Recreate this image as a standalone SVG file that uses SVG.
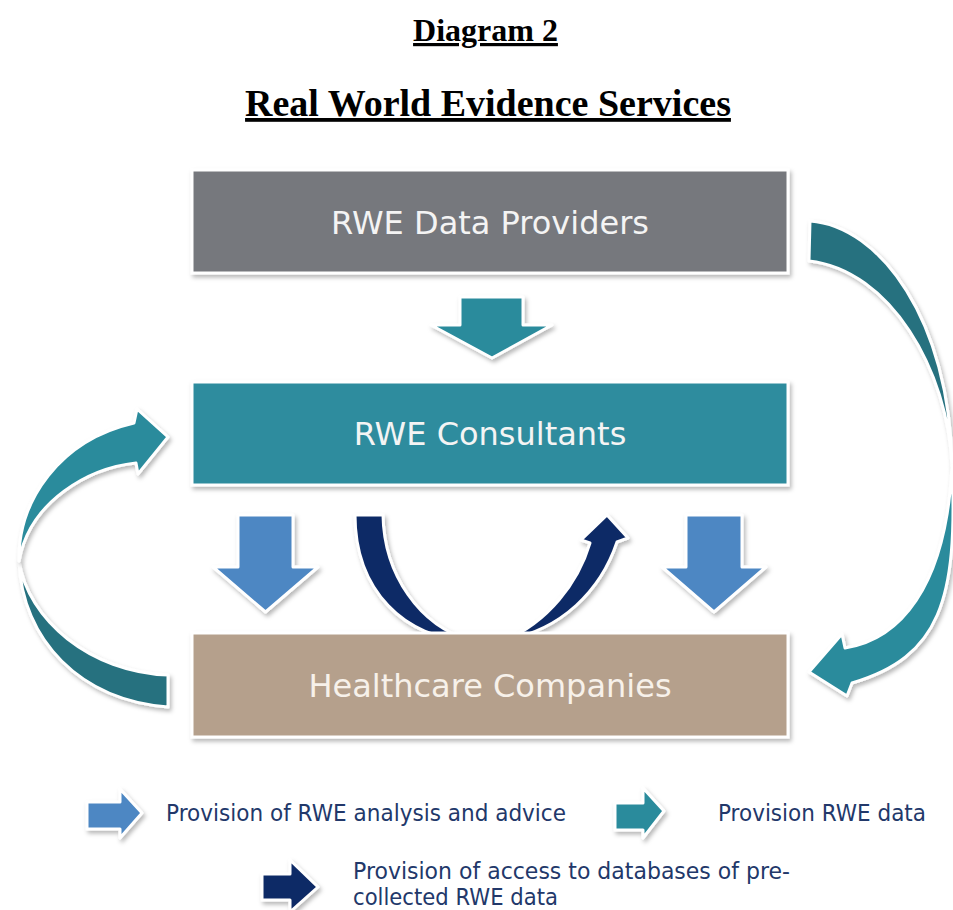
<svg xmlns="http://www.w3.org/2000/svg" width="953" height="910" viewBox="0 0 953 910">
  <style>
    .title { font-family: "Liberation Serif", "Times New Roman", serif; font-weight: bold; fill: #000; text-anchor: middle; text-decoration: underline; }
    .box { stroke: #ffffff; stroke-width: 3; filter: url(#shadow); }
    .boxlabel { font-family: "DejaVu Sans", Verdana, sans-serif; font-size: 32px; text-anchor: middle; }
    .arrow { stroke: #ffffff; stroke-width: 3; stroke-linejoin: round; filter: url(#shadow); }
    .legend { font-family: "DejaVu Sans", Verdana, sans-serif; font-size: 23px; fill: #22386a; }
    .teal { fill: #2b8b9c; }
    .teal-dark { fill: #26717f; }
    .blue { fill: #4d87c3; }
    .navy { fill: #112c66; }
  </style>
  <defs>
    <filter id="shadow" x="-15%" y="-15%" width="135%" height="140%">
      <feDropShadow dx="2" dy="3" stdDeviation="2" flood-color="#000000" flood-opacity="0.28"/>
    </filter>
  </defs>

  <rect width="953" height="910" fill="#ffffff"/>

  <!-- headings -->
  <g id="headings">
    <text class="title" x="485.5" y="41" font-size="32">Diagram 2</text>
    <text class="title" x="488" y="116" font-size="38">Real World Evidence Services</text>
  </g>

  <!-- flows between the three parties -->
  <g id="connectors">
    <!-- providers to consultants -->
    <path id="flow-providers-consultants" class="arrow teal" d="M460,297 L523,297 L523,325 L552,325 L492,358 L431,325 L460,325 Z"/>
    <!-- consultants to healthcare (analysis and advice) -->
    <path id="flow-advice-left" class="arrow blue" d="M238,515 L293,515 L293,567 L318,567 L265.5,612 L213,567 L238,567 Z"/>
    <path id="flow-advice-right" class="arrow blue" d="M686,515 L742,515 L742,567 L766,567 L714,612 L662,567 L686,567 Z"/>
    <!-- database access loop, running under the healthcare box -->
    <g id="flow-database-access">
      <path class="arrow navy" d="M355,515 L383,515 C384,575 420,626 470,640 C405,640 355,590 355,515 Z"/>
      <path class="arrow navy" d="M505,640 C562,630 601,590 617,542 L628,538 L607,515 L581,540 L590,543 C578,583 548,622 505,640 Z"/>
    </g>
    <!-- healthcare back to consultants -->
    <g id="flow-healthcare-consultants">
      <path class="arrow teal-dark" d="M168,675 L168,707 C80,700 22,640 19,561 C28,620 90,672 168,675 Z"/>
      <path class="arrow teal" d="M19,561 C18,500 60,440 134,423 L137,409 L168,437 L138,474 L136,463 C90,468 30,500 19,561 Z"/>
    </g>
    <!-- providers straight to healthcare -->
    <g id="flow-providers-healthcare">
      <path class="arrow teal-dark" d="M810,221 C880,226 950,320 952,466 C948,370 890,270 809,261 Z"/>
      <path class="arrow teal" d="M952,466 C958,600 940,657 852,683 L847,696 L809,672 L842,634 L845,648 C898,640 946,590 952,466 Z"/>
    </g>
  </g>

  <!-- parties -->
  <g id="node-providers">
    <rect class="box" x="192" y="170" width="596" height="103" fill="#76787d"/>
    <text class="boxlabel" x="490" y="234" fill="#f4f4f4">RWE Data Providers</text>
  </g>
  <g id="node-consultants">
    <rect class="box" x="192" y="382" width="596" height="103" fill="#2e8c9e"/>
    <text class="boxlabel" x="490" y="445" fill="#f4f4f4">RWE Consultants</text>
  </g>
  <g id="node-healthcare">
    <rect class="box" x="192" y="633" width="596" height="104" fill="#b5a08c"/>
    <text class="boxlabel" x="490" y="697" fill="#f7f1ea">Healthcare Companies</text>
  </g>

  <!-- key -->
  <g id="legend">
    <path class="arrow blue" d="M87,802 L120,802 L120,789 L142,813 L120,838 L120,829 L87,829 Z"/>
    <text class="legend" x="166" y="821" textLength="400" lengthAdjust="spacingAndGlyphs">Provision of RWE analysis and advice</text>
    <path class="arrow teal" d="M615,803 L643,803 L643,788 L664,811 L643,838 L643,830 L615,830 Z"/>
    <text class="legend" x="718" y="821" textLength="208" lengthAdjust="spacingAndGlyphs">Provision RWE data</text>
    <path class="arrow navy" d="M262,874 L290,874 L290,860 L318,887 L290,912 L290,900 L262,900 Z"/>
    <text class="legend" x="353" y="879" textLength="437" lengthAdjust="spacingAndGlyphs">Provision of access to databases of pre-</text>
    <text class="legend" x="353" y="905" textLength="205" lengthAdjust="spacingAndGlyphs">collected RWE data</text>
  </g>
</svg>
